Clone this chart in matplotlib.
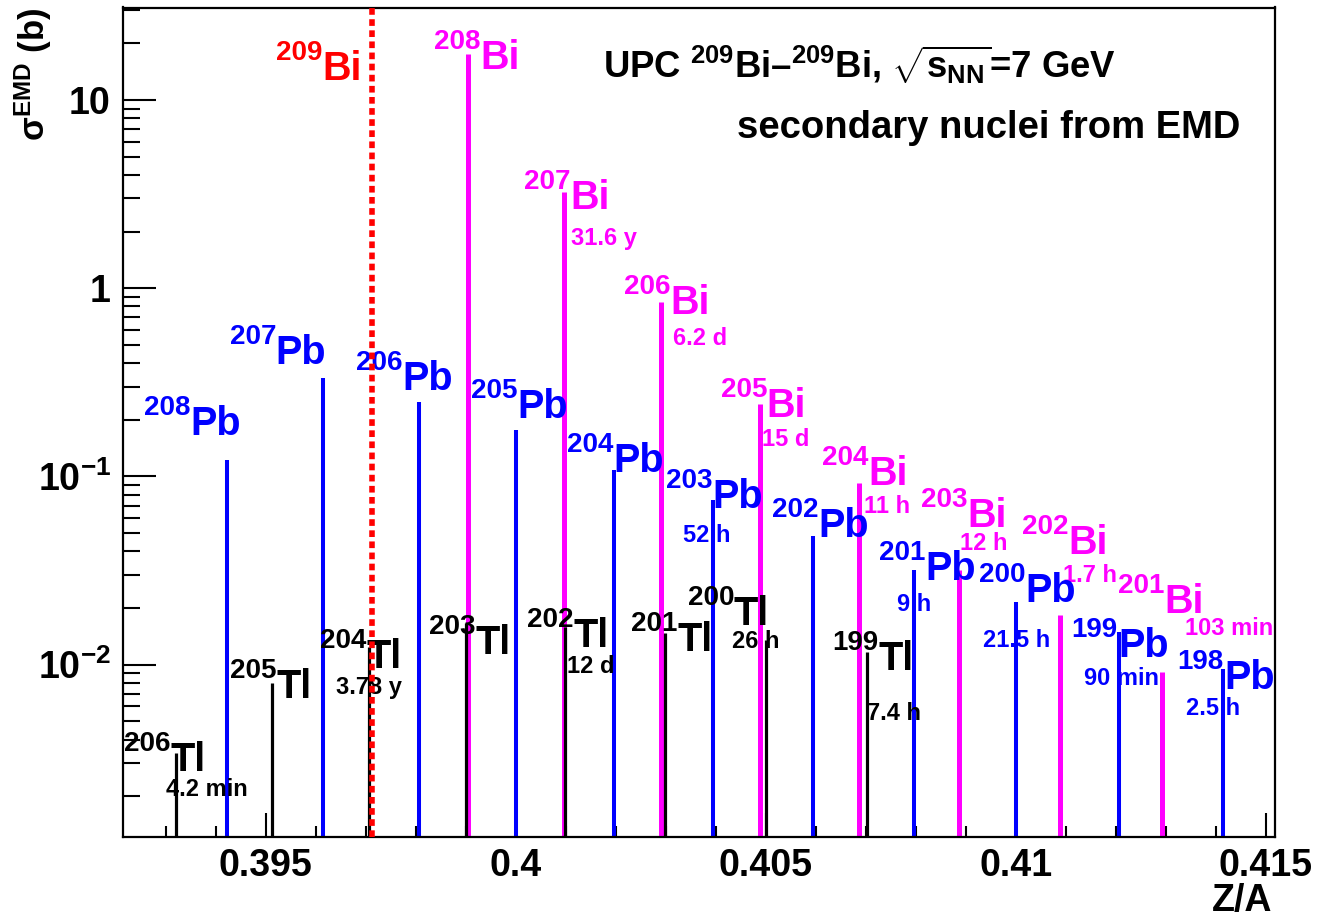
import numpy as np
import matplotlib
matplotlib.use('Agg')
import matplotlib.pyplot as plt
from matplotlib.ticker import FixedLocator, MultipleLocator, LogLocator, NullFormatter

plt.rcParams['font.family'] = ['Liberation Sans', 'DejaVu Sans']
plt.rcParams['font.weight'] = 'bold'
plt.rcParams['mathtext.fontset'] = 'custom'
plt.rcParams['mathtext.rm'] = 'Liberation Sans:bold'
plt.rcParams['mathtext.it'] = 'Liberation Sans:bold'
plt.rcParams['mathtext.bf'] = 'Liberation Sans:bold'
plt.rcParams['mathtext.sf'] = 'Liberation Sans:bold'

# beam nucleus
beam_Z = 83
beam_A = 209

# Bi isotopes (Z=83)
bi_Z = 83
bi_A = [208, 207, 206, 205, 204, 203, 202, 201]
bi_sigma = [17.5, 3.23, 0.84, 0.243, 0.092, 0.032, 0.0183, 0.0091]
bi_half = ['', '31.6 y', '6.2 d', '15 d', '11 h', '12 h', '1.7 h', '103 min']

# Pb isotopes (Z=82)
pb_Z = 82
pb_A = [208, 207, 206, 205, 204, 203, 202, 201, 200, 199, 198]
pb_sigma = [0.122, 0.333, 0.248, 0.176, 0.108, 0.0746, 0.0481, 0.0318, 0.0216, 0.015, 0.0095]
pb_half = ['', '', '', '', '', '52 h', '', '9 h', '21.5 h', '90 min', '2.5 h']

# Tl isotopes (Z=81)
tl_Z = 81
tl_A = [206, 205, 204, 203, 202, 201, 200, 199]
tl_sigma = [0.00338, 0.00795, 0.01245, 0.0166, 0.0159, 0.0147, 0.0135, 0.0117]
tl_half = ['4.2 min', '', '3.78 y', '', '12 d', '', '26 h', '7.4 h']

xticks = [0.395, 0.4, 0.405, 0.41, 0.415]
xticklabels = ['0.395', '0.4', '0.405', '0.41', '0.415']
yticks = [0.01, 0.1, 1, 10]
yticklabels = [r'10$^{-2}$', r'10$^{-1}$', '1', '10']

# label placement (pixel offsets from bar top): name label, half-life label
bi_lab = [(-34, -15), (-40, -17), (-37, -12), (-39, -13), (-37, -2), (-38, 43), (-38, 61), (-44, 59)]
bi_hl = [None, (7, -53), (12, -43), (2, -42), (5, -30), (1, 20), (3, 33), (23, 37)]
pb_lab = [(-83, 25), (-93, 14), (-63, 12), (-45, 12), (-47, -2), (-47, -8), (-41, -1),
          (-35, -10), (-37, 0), (-47, -25), (-45, -20)]
pb_hl = [None, None, None, None, None, (-30, -42), None, (-17, -41), (-33, -45), (-35, -53), (-37, -46)]
tl_lab = [(-52, -18), (-42, -15), (-49, -21), (-37, -31), (-38, -20), (-34, -18), (-78, 15), (-35, -18)]
tl_hl = [(-10, -43), None, (-33, -47), None, (2, -46), None, (-34, -8), (0, -68)]

SYM_FS = 28.5
SUP_FS = 20
SUP_W = 3 * 0.556 * SUP_FS * 100 / 72  # width of the 3-digit mass number, px
SUP_RAISE = 20


def nuclide(ax, xy, A, sym, off, col, **kw):
    dx, dy = off
    ax.annotate(str(A), xy=xy, xytext=(dx, dy + SUP_RAISE), textcoords='offset pixels',
                ha='left', va='baseline', fontsize=SUP_FS, color=col, zorder=5, **kw)
    ax.annotate(sym, xy=xy, xytext=(dx + SUP_W, dy), textcoords='offset pixels',
                ha='left', va='baseline', fontsize=SYM_FS, color=col, zorder=5, **kw)


fig = plt.figure(figsize=(13.17, 9.17), dpi=100)
ax = fig.add_axes([123.3 / 1317, 1 - 837.3 / 917, (1275 - 123.3) / 1317, (837.3 - 7.5) / 917])
ax.set_yscale('log')
ax.set_xlim(0.39215, 0.41519)
ax.set_ylim(0.00121, 31)

groups = [
    ('Bi', bi_Z, bi_A, bi_sigma, bi_half, bi_lab, bi_hl, '#ff00ff', 3.6, 2),
    ('Pb', pb_Z, pb_A, pb_sigma, pb_half, pb_lab, pb_hl, '#0000ff', 2.9, 2),
    ('Tl', tl_Z, tl_A, tl_sigma, tl_half, tl_lab, tl_hl, 'black', 2.3, 3),
]
for name, Z, A, sig, half, lab, hl, col, lw, zo in groups:
    za = Z / np.array(A)
    ax.vlines(za, 1e-5, sig, color=col, lw=lw, zorder=zo)
    for i in range(len(A)):
        nuclide(ax, (za[i], sig[i]), A[i], name, lab[i], col)
        if hl[i] is not None:
            ax.annotate(half[i], xy=(za[i], sig[i]), xytext=hl[i],
                        textcoords='offset pixels', ha='left', va='baseline',
                        fontsize=17, color=col, zorder=5)

# primary beam nucleus
zb = beam_Z / beam_A
ax.axvline(zb, color='#ff0000', lw=4, ls=(0, (1.2, 0.8)), zorder=6)
nuclide(ax, (zb, 1), beam_A, 'Bi', (-96, -72.5), '#ff0000', xycoords=('data', 'axes fraction'))

ax.xaxis.set_major_locator(FixedLocator(xticks))
ax.set_xticklabels(xticklabels)
ax.xaxis.set_minor_locator(MultipleLocator(0.001))
ax.yaxis.set_major_locator(FixedLocator(yticks))
ax.set_yticklabels(yticklabels)
ax.yaxis.set_minor_locator(LogLocator(base=10, subs=np.arange(2, 10)))
ax.yaxis.set_minor_formatter(NullFormatter())

ax.tick_params(axis='both', which='both', direction='in', top=False, right=False, width=1.5)
ax.tick_params(axis='x', which='major', length=17, labelsize=27, pad=8)
ax.tick_params(axis='x', which='minor', length=8)
ax.tick_params(axis='y', which='major', length=24, labelsize=27, pad=9)
ax.tick_params(axis='y', which='minor', length=12)
for s in ax.spines.values():
    s.set_linewidth(1.6)

fig.text(1272 / 1317, 1 - 911 / 917, 'Z/A', ha='right', va='baseline', fontsize=27)
fig.text(33 / 1317, 1 - 8 / 917, r'σ$^{EMD}$ (b)', rotation=90, ha='center', va='top', fontsize=25)

fig.text(603 / 1317, 1 - 78 / 917, r'UPC $^{209}$Bi–$^{209}$Bi, $\sqrt{s_{NN}}$=7 GeV',
         ha='left', va='baseline', fontsize=26.3)
fig.text(1240 / 1317, 1 - 138 / 917, 'secondary nuclei from EMD',
         ha='right', va='baseline', fontsize=27.5)

fig.savefig('out.png', dpi=100)
